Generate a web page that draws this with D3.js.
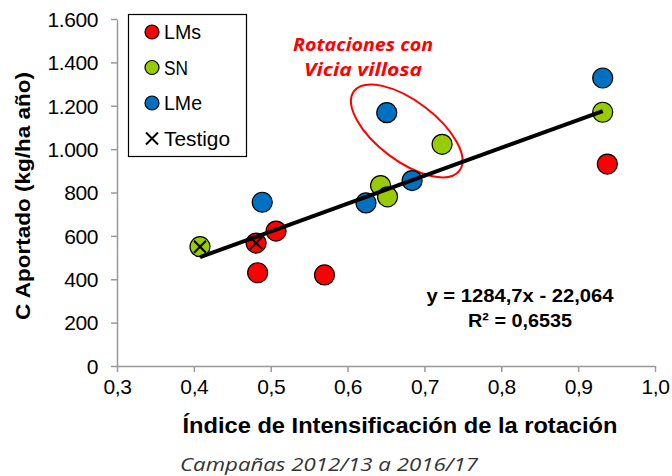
<!DOCTYPE html>
<html>
<head>
<meta charset="utf-8">
<script src="https://cdn.jsdelivr.net/npm/d3@7"></script>
<style>
  body { margin: 0; background: #fff; }
  svg text { font-family: "Liberation Sans", Arial, sans-serif; }
  svg text.cal { font-family: "Open Sans", sans-serif; }
</style>
</head>
<body>
<div id="chart"></div>
<script>
// Datos
var grupos = ["LMs", "SN", "LMe", "Testigo"];
var colores = { LMs: "#ff0000", SN: "#99cc00", LMe: "#0070c0" };

var lmsX = [0.481, 0.507, 0.483, 0.570, 0.938];
var lmsY = [567, 622, 430, 420, 931];
var snX = [0.408, 0.643, 0.652, 0.723, 0.932];
var snY = [550, 832, 780, 1022, 1170];
var lmeX = [0.489, 0.624, 0.684, 0.651, 0.932];
var lmeY = [755, 752, 855, 1168, 1328];
var testigoX = [0.408, 0.481];
var testigoY = [550, 567];

var xTicks = [0.3, 0.4, 0.5, 0.6, 0.7, 0.8, 0.9, 1.0];
var yTicks = [0, 200, 400, 600, 800, 1000, 1200, 1400, 1600];

var pendiente = 1284.7, ordenada = -22.064;
var ecuacion = ["y = 1284,7x - 22,064", "R\u00b2 = 0,6535"];
var nota = ["Rotaciones con", "Vicia villosa"];
var notaCentro = [0.677, 1084];

var svgWidth = 672, svgHeight = 476;
var margin = { top: 19, right: 17, bottom: 110, left: 117 };

var svg = d3.select("#chart").append("svg")
    .attr("width", svgWidth)
    .attr("height", svgHeight);

var x = d3.scaleLinear().domain([0.3, 1.0]).range([margin.left, svgWidth - margin.right]);
var y = d3.scaleLinear().domain([0, 1600]).range([svgHeight - margin.bottom, margin.top]);

var fmtX = function (d) { return d3.format(".1f")(d).replace(".", ","); };
var fmtY = function (d) { return d3.format(",")(d).replace(",", "."); };

// Ejes
var gx = svg.append("g")
    .attr("transform", "translate(0," + y(0) + ")")
    .call(d3.axisBottom(x).tickValues(xTicks).tickFormat(fmtX).tickSize(6).tickSizeOuter(0));
var gy = svg.append("g")
    .attr("transform", "translate(" + x(0.3) + ",0)")
    .call(d3.axisLeft(y).tickValues(yTicks).tickFormat(fmtY).tickSize(6).tickSizeOuter(0));

[gx, gy].forEach(function (g) {
    g.attr("font-family", null).attr("font-size", null);
    g.select(".domain").attr("stroke", "#999").attr("stroke-width", 1.5);
    g.selectAll(".tick line").attr("stroke", "#999").attr("stroke-width", 1.5);
    g.selectAll(".tick text").attr("fill", "#000").style("font-size", "21px").attr("letter-spacing", -0.4);
});
gx.selectAll(".tick text").attr("y", 13).attr("dy", "0.71em");
gy.selectAll(".tick text").attr("x", -19).attr("dy", "0.35em");

// Titulos de ejes
svg.append("text")
    .attr("transform", "translate(23," + 196 + ") rotate(-90)")
    .attr("text-anchor", "middle")
    .attr("dy", "0.35em")
    .attr("font-weight", "bold")
    .attr("textLength", 248).attr("lengthAdjust", "spacingAndGlyphs")
    .style("font-size", "21px")
    .text("C Aportado (kg/ha a\u00f1o)");

svg.append("text")
    .attr("x", 400).attr("y", 433)
    .attr("text-anchor", "middle")
    .attr("font-weight", "bold")
    .attr("textLength", 435).attr("lengthAdjust", "spacingAndGlyphs")
    .style("font-size", "22px")
    .text("\u00cdndice de Intensificaci\u00f3n de la rotaci\u00f3n");

svg.append("text")
    .attr("class", "cal")
    .attr("x", 329).attr("y", 471)
    .attr("text-anchor", "middle")
    .attr("font-style", "italic")
    .attr("fill", "#333")
    .attr("textLength", 298).attr("lengthAdjust", "spacingAndGlyphs")
    .style("font-size", "19px")
    .text("Campa\u00f1as 2012/13 a 2016/17");

// Elipse de anotacion
svg.append("ellipse")
    .attr("transform", "translate(" + x(notaCentro[0]) + "," + y(notaCentro[1]) + ") rotate(37)")
    .attr("rx", 66).attr("ry", 30)
    .attr("fill", "none")
    .attr("stroke", "#ff0000")
    .attr("stroke-width", 2);

svg.append("g").selectAll("text").data(nota).enter().append("text")
    .attr("class", "cal")
    .attr("x", 363)
    .attr("y", function (d, i) { return 51 + i * 25; })
    .attr("text-anchor", "middle")
    .attr("fill", "#ff0000")
    .attr("font-weight", "bold")
    .attr("font-style", "italic")
    .attr("textLength", function (d, i) { return i == 0 ? 140 : 118; })
    .attr("lengthAdjust", "spacingAndGlyphs")
    .style("font-size", "18px")
    .text(function (d) { return d; });

// Puntos
var series = [
    { nombre: "LMs", xs: lmsX, ys: lmsY },
    { nombre: "SN", xs: snX, ys: snY },
    { nombre: "LMe", xs: lmeX, ys: lmeY }
];
var puntos = [];
series.forEach(function (s) {
    s.xs.forEach(function (v, i) { puntos.push({ g: s.nombre, x: v, y: s.ys[i] }); });
});

svg.append("g").selectAll("circle").data(puntos).enter().append("circle")
    .attr("cx", function (d) { return x(d.x); })
    .attr("cy", function (d) { return y(d.y); })
    .attr("r", 10)
    .attr("fill", function (d) { return colores[d.g]; })
    .attr("stroke", "#000")
    .attr("stroke-width", 1.2);

// Recta de regresion
var xMin = d3.min(puntos, function (d) { return d.x; });
var xMax = d3.max(snX);
var recta = [xMin, xMax].map(function (v) { return { x: v, y: pendiente * v + ordenada }; });
svg.append("path")
    .datum(recta)
    .attr("fill", "none")
    .attr("stroke", "#000")
    .attr("stroke-width", 4)
    .attr("d", d3.line().x(function (d) { return x(d.x); }).y(function (d) { return y(d.y); }));

// Testigos (cruces)
function cruz(cx, cy, s) {
    return "M" + (cx - s) + "," + (cy - s) + "L" + (cx + s) + "," + (cy + s) +
        "M" + (cx - s) + "," + (cy + s) + "L" + (cx + s) + "," + (cy - s);
}
svg.append("g").selectAll("path").data(testigoX).enter().append("path")
    .attr("d", function (d, i) { return cruz(x(d), y(testigoY[i]), 6); })
    .attr("stroke", "#000")
    .attr("stroke-width", 2);

// Ecuacion
svg.append("g").selectAll("text").data(ecuacion).enter().append("text")
    .attr("x", 520)
    .attr("y", function (d, i) { return 302 + i * 25; })
    .attr("text-anchor", "middle")
    .attr("font-weight", "bold")
    .attr("textLength", function (d, i) { return i == 0 ? 187 : 104; })
    .attr("lengthAdjust", "spacingAndGlyphs")
    .style("font-size", "19px")
    .text(function (d) { return d; });

// Leyenda
var leg = svg.append("g");
leg.append("rect")
    .attr("x", 128.5).attr("y", 14.5)
    .attr("width", 118).attr("height", 142)
    .attr("fill", "#fff")
    .attr("stroke", "#000")
    .attr("stroke-width", 1.2);

var item = leg.selectAll("g.item").data(grupos).enter().append("g")
    .attr("class", "item")
    .attr("transform", function (d, i) { return "translate(152," + (32 + i * 35.5) + ")"; });

item.filter(function (d) { return d != "Testigo"; }).append("circle")
    .attr("r", 7)
    .attr("fill", function (d) { return colores[d]; })
    .attr("stroke", "#000")
    .attr("stroke-width", 1.2);

item.filter(function (d) { return d == "Testigo"; }).append("path")
    .attr("d", cruz(0, 0, 6))
    .attr("stroke", "#000")
    .attr("stroke-width", 2);

item.append("text")
    .attr("x", 12)
    .attr("dy", "0.36em")
    .style("font-size", "20px")
    .attr("textLength", function (d) { return { LMs: 37, SN: 24, LMe: 38, Testigo: 66 }[d]; })
    .attr("lengthAdjust", "spacingAndGlyphs")
    .text(function (d) { return d; });
</script>
</body>
</html>
